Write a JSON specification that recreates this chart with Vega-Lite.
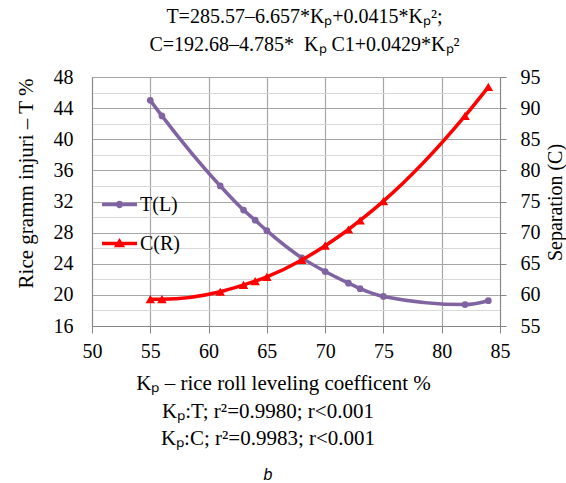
{
  "$schema": "https://vega.github.io/schema/vega-lite/v6.json",
  "width": 408,
  "height": 249,
  "autosize": {"type": "none"},
  "padding": {"left": 92, "top": 77, "right": 66, "bottom": 157},
  "background": "white",
  "config": {"view": {"stroke": null}, "font": "Liberation Serif"},
  "data": {
    "values": [
      {"Kp": 55, "T": 45.0, "C": 59.3},
      {"Kp": 56, "T": 43.0, "C": 59.3},
      {"Kp": 61, "T": 34.0, "C": 60.5},
      {"Kp": 63, "T": 30.9, "C": 61.6},
      {"Kp": 64, "T": 29.6, "C": 62.2},
      {"Kp": 65, "T": 28.25, "C": 62.9},
      {"Kp": 68, "T": 24.75, "C": 65.6},
      {"Kp": 70, "T": 23.0, "C": 67.9},
      {"Kp": 72, "T": 21.5, "C": 70.5},
      {"Kp": 73, "T": 20.8, "C": 71.95},
      {"Kp": 75, "T": 19.8, "C": 75.05},
      {"Kp": 82, "T": 18.75, "C": 88.75},
      {"Kp": 84, "T": 19.25, "C": 93.4}
    ]
  },
  "title": {
    "text": ["Kₚ:T; r²=0.9980; r<0.001", "Kₚ:C; r²=0.9983; r<0.001"],
    "orient": "bottom",
    "font": "Liberation Serif",
    "fontWeight": "normal",
    "fontSize": 21,
    "lineHeight": 27,
    "color": "black",
    "dx": -28,
    "offset": 8,
    "subtitle": "b",
    "subtitleFont": "Liberation Sans",
    "subtitleFontStyle": "italic",
    "subtitleFontWeight": "normal",
    "subtitleFontSize": 16,
    "subtitleColor": "black",
    "subtitlePadding": 18
  },
  "layer": [
    {
      "mark": {
        "type": "line",
        "interpolate": "monotone",
        "strokeWidth": 3.5,
        "point": {"filled": true, "size": 45, "shape": "circle", "opacity": 1}
      },
      "encoding": {
        "x": {
          "field": "Kp",
          "type": "quantitative",
          "scale": {"domain": [50, 85], "nice": false, "zero": false},
          "axis": {
            "orient": "bottom",
            "values": [50, 55, 60, 65, 70, 75, 80, 85],
            "grid": true,
            "gridColor": "#a6a6a6",
            "gridWidth": 1.2,
            "tickColor": "#868686",
            "tickSize": 7,
            "domainColor": "#868686",
            "labelFont": "Liberation Serif",
            "labelFontSize": 20,
            "labelColor": "black",
            "labelPadding": 8,
            "labelFlush": false,
            "labelOverlap": false,
            "title": "Kₚ – rice roll leveling coefficent %",
            "titleFont": "Liberation Serif",
            "titleFontSize": 21,
            "titleFontWeight": "normal",
            "titleColor": "black",
            "titleX": 191,
            "titleY": 63,
            "titleBaseline": "alphabetic"
          }
        },
        "y": {
          "field": "T",
          "type": "quantitative",
          "scale": {"domain": [16, 48], "nice": false, "zero": false},
          "axis": {
            "orient": "left",
            "values": [16, 18, 20, 22, 24, 26, 28, 30, 32, 34, 36, 38, 40, 42, 44, 46, 48],
            "labelExpr": "datum.value % 4 === 0 ? datum.label : ''",
            "grid": true,
            "gridColor": {"condition": {"test": "datum.value % 4 === 0", "value": "#a6a6a6"}, "value": "#d9d9d9"},
            "gridWidth": 1.2,
            "ticks": false,
            "domainColor": "#868686",
            "labelFont": "Liberation Serif",
            "labelFontSize": 20,
            "labelColor": "black",
            "labelPadding": 19,
            "labelFlush": false,
            "labelOverlap": false,
            "title": "Rice gramm injuri – T %",
            "titleFont": "Liberation Serif",
            "titleFontSize": 21,
            "titleFontWeight": "normal",
            "titleColor": "black",
            "titleAngle": -90,
            "titleX": -66,
            "titleY": 106,
            "titleBaseline": "middle"
          }
        },
        "color": {
          "datum": "T(L)",
          "type": "nominal",
          "scale": {"domain": ["T(L)", "C(R)"], "range": ["#8064a2", "#ff0000"]},
          "legend": {
            "orient": "none",
            "legendX": 10,
            "legendY": 110,
            "title": null,
            "labelFont": "Liberation Serif",
            "labelFontSize": 20,
            "labelColor": "black",
            "symbolSize": 1225,
            "labelOffset": 3,
            "rowPadding": 11,
            "encode": {
              "symbols": {
                "update": {
                  "shape": {"signal": "datum.value === 'T(L)' ? 'M-1,-0.1H1V0.1H-1Z M0.21,0A0.21,0.21,0,1,1,-0.21,0A0.21,0.21,0,1,1,0.21,0Z' : 'M-1,-0.1H1V0.1H-1Z M0,-0.32L0.32,0.22L-0.32,0.22Z'"},
                  "fill": {"signal": "datum.value === 'T(L)' ? '#8064a2' : '#ff0000'"},
                  "stroke": {"value": "transparent"},
                  "strokeWidth": {"value": 0},
                  "opacity": {"value": 1}
                }
              }
            }
          }
        }
      }
    },
    {
      "mark": {
        "type": "line",
        "interpolate": "monotone",
        "strokeWidth": 3.5,
        "point": {"filled": true, "size": 90, "shape": "triangle-up", "opacity": 1}
      },
      "encoding": {
        "x": {
          "field": "Kp",
          "type": "quantitative",
          "axis": {
            "orient": "top",
            "labels": false,
            "ticks": false,
            "domain": false,
            "grid": false,
            "title": [
              "T=285.57–6.657*Kₚ+0.0415*Kₚ²;",
              "C=192.68–4.785*\u00a0 Kₚ C1+0.0429*Kₚ²"
            ],
            "titleFont": "Liberation Serif",
            "titleFontSize": 20,
            "titleFontWeight": "normal",
            "titleColor": "black",
            "titleX": 212,
            "titleY": -55,
            "titleLineHeight": 28,
            "titleBaseline": "alphabetic"
          }
        },
        "y": {
          "field": "C",
          "type": "quantitative",
          "scale": {"domain": [55, 95], "nice": false, "zero": false},
          "axis": {
            "orient": "right",
            "values": [55, 60, 65, 70, 75, 80, 85, 90, 95],
            "grid": false,
            "tickSize": 6,
            "tickColor": "#868686",
            "domainColor": "#868686",
            "labelFont": "Liberation Serif",
            "labelFontSize": 20,
            "labelColor": "black",
            "labelPadding": 14,
            "labelFlush": false,
            "labelOverlap": false,
            "title": "Separation (C)",
            "titleFont": "Liberation Serif",
            "titleFontSize": 20,
            "titleFontWeight": "normal",
            "titleColor": "black",
            "titleAngle": -90,
            "titleX": 55,
            "titleY": 125,
            "titleBaseline": "middle"
          }
        },
        "color": {"datum": "C(R)", "type": "nominal"}
      }
    }
  ],
  "resolve": {
    "scale": {"y": "independent"},
    "axis": {"x": "independent", "y": "independent"}
  }
}
